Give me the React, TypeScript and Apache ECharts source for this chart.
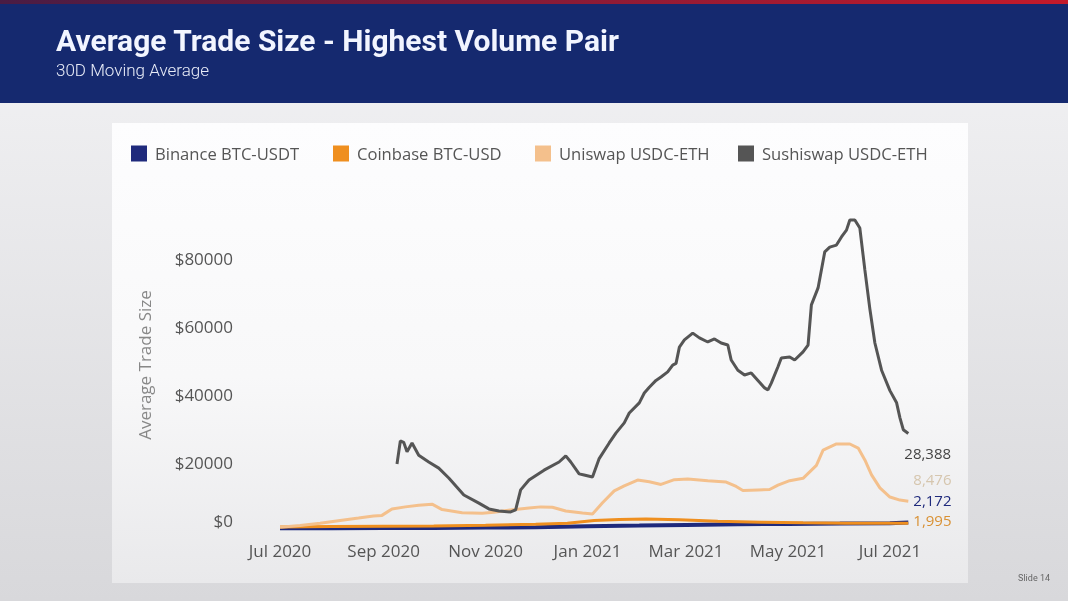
import React, { useEffect, useRef } from 'react';
import * as echarts from 'echarts';

// 30D moving average trade size
const binanceDates = ['2020-07-01', '2020-08-01', '2020-09-01', '2020-10-01', '2020-11-01', '2020-12-01', '2021-01-01', '2021-02-01', '2021-03-01', '2021-04-01', '2021-05-01', '2021-06-01', '2021-07-01', '2021-07-12'];
const binanceValues = [500, 500, 600, 600, 700, 800, 1100, 1300, 1500, 1700, 1800, 1900, 2000, 2172];

const coinbaseDates = ['2020-07-01', '2020-08-01', '2020-09-01', '2020-10-01', '2020-11-01', '2020-12-01', '2020-12-20', '2021-01-05', '2021-01-20', '2021-02-05', '2021-02-25', '2021-03-20', '2021-04-15', '2021-05-10', '2021-06-05', '2021-07-12'];
const coinbaseValues = [900, 1000, 1100, 1200, 1400, 1700, 2000, 2800, 3100, 3200, 3000, 2600, 2300, 2100, 2000, 1995];

const uniswapDates = ['2020-07-01', '2020-07-13', '2020-07-25', '2020-08-06', '2020-08-17', '2020-08-26', '2020-08-31', '2020-09-06', '2020-09-14', '2020-09-22', '2020-09-30', '2020-10-06', '2020-10-18', '2020-10-30', '2020-11-06', '2020-11-16', '2020-11-27', '2020-12-04', '2020-12-11', '2020-12-19', '2020-12-29', '2021-01-04', '2021-01-10', '2021-01-17', '2021-01-23', '2021-01-31', '2021-02-07', '2021-02-14', '2021-02-22', '2021-03-02', '2021-03-14', '2021-03-25', '2021-03-31', '2021-04-04', '2021-04-13', '2021-04-20', '2021-04-25', '2021-05-02', '2021-05-10', '2021-05-18', '2021-05-22', '2021-05-30', '2021-06-07', '2021-06-12', '2021-06-16', '2021-06-20', '2021-06-25', '2021-07-01', '2021-07-07', '2021-07-12'];
const uniswapValues = [800, 1300, 2000, 2800, 3500, 4100, 4300, 6200, 6800, 7300, 7600, 6000, 5100, 4900, 5200, 5900, 6500, 6800, 6700, 5600, 5000, 4700, 8000, 11500, 13000, 14700, 14200, 13400, 14800, 15000, 14500, 14100, 12800, 11600, 11800, 11900, 13200, 14500, 15200, 19000, 23500, 25300, 25300, 24100, 20600, 16200, 12400, 9700, 8800, 8476];

const sushiDates = ['2020-09-09', '2020-09-11', '2020-09-13', '2020-09-15', '2020-09-18', '2020-09-22', '2020-09-28', '2020-10-04', '2020-10-10', '2020-10-19', '2020-10-28', '2020-11-03', '2020-11-09', '2020-11-16', '2020-11-19', '2020-11-22', '2020-11-27', '2020-12-06', '2020-12-15', '2020-12-19', '2020-12-22', '2020-12-27', '2020-12-30', '2021-01-04', '2021-01-08', '2021-01-14', '2021-01-18', '2021-01-23', '2021-01-26', '2021-02-01', '2021-02-04', '2021-02-07', '2021-02-11', '2021-02-14', '2021-02-18', '2021-02-21', '2021-02-23', '2021-02-25', '2021-02-28', '2021-03-05', '2021-03-09', '2021-03-14', '2021-03-18', '2021-03-22', '2021-03-26', '2021-03-28', '2021-04-01', '2021-04-05', '2021-04-09', '2021-04-13', '2021-04-17', '2021-04-19', '2021-04-21', '2021-04-25', '2021-04-27', '2021-05-02', '2021-05-05', '2021-05-10', '2021-05-13', '2021-05-15', '2021-05-19', '2021-05-23', '2021-05-26', '2021-05-30', '2021-06-02', '2021-06-05', '2021-06-07', '2021-06-10', '2021-06-13', '2021-06-16', '2021-06-19', '2021-06-22', '2021-06-26', '2021-07-01', '2021-07-05', '2021-07-07', '2021-07-09', '2021-07-12'];
const sushiValues = [19400, 26200, 25800, 23000, 25600, 22000, 20000, 18200, 15300, 10300, 7900, 6200, 5600, 5300, 5900, 11800, 14700, 17600, 20000, 21800, 20000, 16500, 16200, 15600, 21000, 25600, 28500, 31500, 34400, 37400, 40300, 42000, 44000, 45000, 46500, 48500, 49000, 53800, 55900, 57900, 56500, 55300, 56200, 55000, 54400, 50000, 47000, 45600, 46200, 44000, 41800, 41200, 43200, 48000, 50600, 50900, 50000, 52400, 54400, 66200, 71200, 81800, 83200, 83800, 86200, 88200, 91200, 91200, 88800, 76500, 65000, 55000, 47000, 41000, 37400, 33000, 29500, 28388];

const seriesNames = ['Binance BTC-USDT', 'Coinbase BTC-USD', 'Uniswap USDC-ETH', 'Sushiswap USDC-ETH'];
const yTicks = [0, 20000, 40000, 60000, 80000];
const monthNames = ['Jan', 'Feb', 'Mar', 'Apr', 'May', 'Jun', 'Jul', 'Aug', 'Sep', 'Oct', 'Nov', 'Dec'];

const pairs = (dates: string[], values: number[]) => dates.map((d, i) => [d, values[i]]);

const App: React.FC = () => {
    const chartRef = useRef<HTMLDivElement>(null);

    useEffect(() => {
        if (!chartRef.current) return;
        const chart = echarts.init(chartRef.current, null, { renderer: 'svg' });

        const endLabel = (color: string, offset: number[]) => ({
            show: true,
            color,
            fontFamily: 'Open Sans',
            fontSize: 15,
            lineHeight: 15,
            offset,
            formatter: (p: any) => Number(p.value[1]).toLocaleString('en-US'),
        });

        // one legend per item: the slide spaces them evenly, not by text width
        const legendLefts = [131, 333, 535, 738];
        const legends = seriesNames.map((name, i) => ({
            left: legendLefts[i], top: 145, padding: 0,
            itemWidth: 16, itemHeight: 16,
            icon: 'rect',
            textStyle: { color: '#555', fontSize: 16.6, fontFamily: 'Open Sans', padding: [0, 0, 0, 3] },
            data: [name],
        }));

        const option: any = {
            animation: false,
            useUTC: true,
            backgroundColor: 'transparent',
            textStyle: { fontFamily: 'Open Sans' },
            graphic: [
                {
                    type: 'rect', z: -10, silent: true,
                    shape: { x: 0, y: 0, width: 1068, height: 601 },
                    style: {
                        fill: new echarts.graphic.LinearGradient(0, 0, 0, 1, [
                            { offset: 0, color: '#f3f3f5' },
                            { offset: 1, color: '#d8d8db' },
                        ]),
                    },
                },
                {
                    type: 'rect', z: -9, silent: true,
                    shape: { x: 0, y: 0, width: 1068, height: 103 },
                    style: { fill: '#15296f' },
                },
                {
                    type: 'rect', z: -8, silent: true,
                    shape: { x: 0, y: 0, width: 1068, height: 4 },
                    style: {
                        fill: new echarts.graphic.LinearGradient(0, 0, 1, 0, [
                            { offset: 0, color: '#4a1c44' },
                            { offset: 1, color: '#c41a2a' },
                        ]),
                    },
                },
                {
                    type: 'rect', z: -8, silent: true,
                    shape: { x: 112, y: 123, width: 856, height: 460 },
                    style: {
                        fill: new echarts.graphic.LinearGradient(0, 0, 0, 1, [
                            { offset: 0, color: '#fdfdfe' },
                            { offset: 0.55, color: '#f8f8f9' },
                            { offset: 1, color: '#e9e9eb' },
                        ]),
                    },
                },
                {
                    type: 'text', right: 18, top: 573,
                    style: { text: 'Slide 14', fill: '#666', font: '9px Roboto' },
                },
            ],
            title: [
                {
                    text: 'Average Trade Size - Highest Volume Pair',
                    left: 51, top: 20,
                    textStyle: { color: '#f2f5ff', fontFamily: 'Roboto', fontWeight: 'bold', fontSize: 30 },
                },
                {
                    text: '30D Moving Average',
                    left: 51, top: 56,
                    textStyle: { color: '#e8ecf8', fontFamily: 'Roboto', fontWeight: 300, fontSize: 17 },
                },
            ],
            legend: legends,
            grid: { left: 270, right: 148, top: 190, bottom: 71, containLabel: false },
            xAxis: {
                type: 'time',
                min: '2020-06-25',
                max: '2021-07-19',
                splitNumber: 5,
                axisLine: { show: false },
                axisTick: { show: false },
                splitLine: { show: false },
                axisLabel: {
                    color: '#555', fontSize: 17, fontFamily: 'Open Sans', margin: 12,
                    formatter: (v: number) => {
                        const d = new Date(v);
                        return monthNames[d.getUTCMonth()] + ' ' + d.getUTCFullYear();
                    },
                },
            },
            yAxis: {
                type: 'value',
                min: 0, max: 100000, interval: 20000,
                name: 'Average Trade Size',
                nameLocation: 'middle',
                nameGap: 117,
                nameTextStyle: { color: '#888', fontSize: 17, fontFamily: 'Open Sans', padding: [0, 10, 0, 0] },
                axisLine: { show: false },
                axisTick: { show: false },
                splitLine: { show: false },
                axisLabel: {
                    color: '#555', fontSize: 17, fontFamily: 'Open Sans', margin: 37,
                    showMaxLabel: false,
                    formatter: (v: number) => (yTicks.includes(v) ? (v === 0 ? '{z|$0}' : '$' + v) : ''),
                    rich: { z: { color: '#555', fontSize: 17, fontFamily: 'Open Sans', padding: [0, 0, 20, 0] } },
                },
            },
            series: [
                {
                    name: seriesNames[0], type: 'line', showSymbol: false, symbol: 'none',
                    data: pairs(binanceDates, binanceValues),
                    lineStyle: { color: '#1f2a7c', width: 4 }, itemStyle: { color: '#1f2a7c' },
                    endLabel: endLabel('#1f2a7c', [-3, -23]),
                },
                {
                    name: seriesNames[1], type: 'line', showSymbol: false, symbol: 'none',
                    data: pairs(coinbaseDates, coinbaseValues),
                    lineStyle: { color: '#ef8f1f', width: 3 }, itemStyle: { color: '#ef8f1f' },
                    endLabel: endLabel('#d99134', [-3, -3]),
                },
                {
                    name: seriesNames[2], type: 'line', showSymbol: false, symbol: 'none',
                    data: pairs(uniswapDates, uniswapValues),
                    lineStyle: { color: '#f4c08c', width: 3 }, itemStyle: { color: '#f4c08c' },
                    endLabel: endLabel('#d6c6ae', [-3, -22]),
                },
                {
                    name: seriesNames[3], type: 'line', showSymbol: false, symbol: 'none',
                    data: pairs(sushiDates, sushiValues),
                    lineStyle: { color: '#555555', width: 3 }, itemStyle: { color: '#555555' },
                    endLabel: endLabel('#444', [-12, 20]),
                },
            ],
        };

        chart.setOption(option);
        return () => chart.dispose();
    }, []);

    return <div ref={chartRef} style={{ position: 'fixed', left: 0, top: 0, width: 1068, height: 601 }} />;
};

export default App;
